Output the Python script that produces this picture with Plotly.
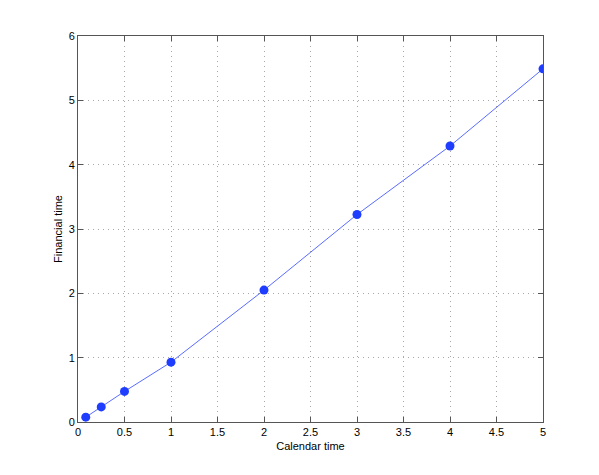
import plotly.graph_objects as go

calendar_time = [1/12, 0.25, 0.5, 1, 2, 3, 4, 5]
financial_time = [0.075, 0.235, 0.475, 0.93, 2.05, 3.225, 4.29, 5.49]
x_ticks = [0, 0.5, 1, 1.5, 2, 2.5, 3, 3.5, 4, 4.5, 5]
x_tick_labels = ["0", "0.5", "1", "1.5", "2", "2.5", "3", "3.5", "4", "4.5", "5"]
y_ticks = [0, 1, 2, 3, 4, 5, 6]

fig = go.Figure()
fig.add_trace(go.Scatter(
    x=calendar_time, y=financial_time, mode="lines",
    line=dict(color="#5a6cff", width=1), showlegend=False, hoverinfo="skip"))
fig.add_trace(go.Scatter(
    x=calendar_time, y=financial_time, mode="markers",
    marker=dict(color="#1f3dff", size=9), showlegend=False))

axis_common = dict(
    showgrid=True, gridcolor="#a8a8a8", griddash="1px,4px", gridwidth=1,
    showline=True, linecolor="#555555", linewidth=1, mirror="ticks",
    ticks="inside", ticklen=5, tickcolor="#555555",
    zeroline=False, tickfont=dict(family="Liberation Sans, Arial", size=11, color="black"),
)

fig.update_layout(
    width=599, height=475,
    margin=dict(l=70, r=64, t=28, b=61),
    paper_bgcolor="white", plot_bgcolor="white",
    font=dict(family="Liberation Sans, Arial", size=11, color="black"),
    xaxis=dict(range=[0, 5], tickvals=x_ticks, ticktext=x_tick_labels,
               title=dict(text="Calendar time", standoff=5, font=dict(size=11)), **axis_common),
    yaxis=dict(range=[0, 6], tickvals=y_ticks,
               title=dict(text="Financial time", standoff=3, font=dict(size=11)), **axis_common),
)

fig.write_html("out.html")
